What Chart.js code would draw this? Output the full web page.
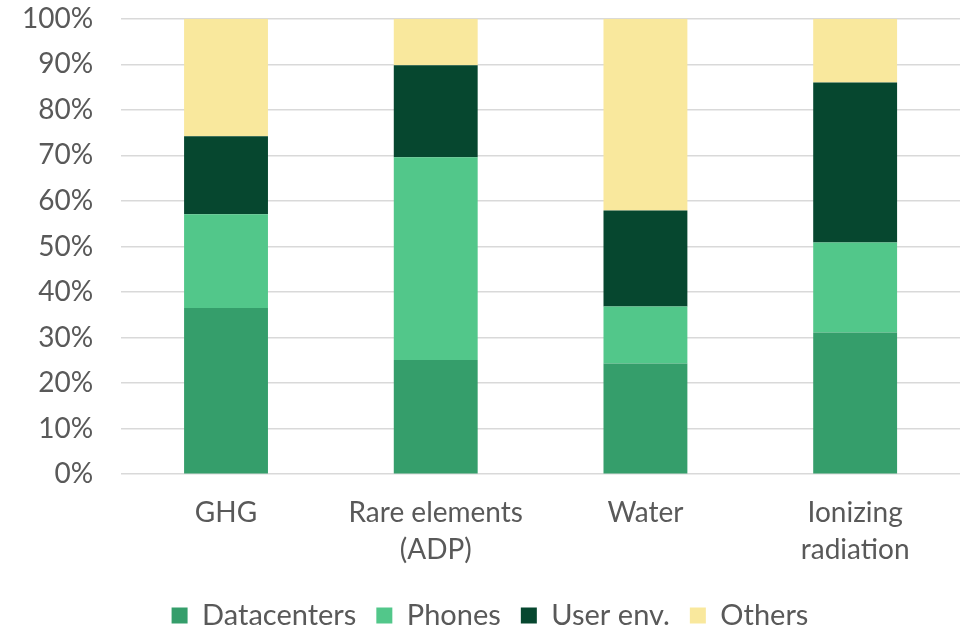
<!DOCTYPE html>
<html>
<head>
<meta charset="utf-8">
<script src="https://cdn.jsdelivr.net/npm/chart.js@4"></script>
<style>
  html, body { margin: 0; padding: 0; background: #fff; }
  #wrap { width: 960px; height: 628px; }
</style>
</head>
<body>
<div id="wrap"><canvas id="myChart" width="960" height="628"></canvas></div>
<script>
// categories and shares (%)
var categorias = [["GHG"], ["Rare elements", "(ADP)"], ["Water"], ["Ionizing", "radiation"]];
var datacenters = [36.5, 25.1, 24.3, 31.1];
var phones = [20.6, 44.5, 12.5, 19.8];
var userEnv = [17.1, 20.2, 21.1, 35.1];
var others = [25.8, 10.2, 42.1, 14.0];

var gris = "#595959";
var fuente = "Lato, 'Open Sans', sans-serif";

var ctx = document.getElementById("myChart").getContext("2d");
var myChart = new Chart(ctx, {
  type: "bar",
  data: {
    labels: categorias,
    datasets: [
      { label: "Datacenters", data: datacenters, backgroundColor: "#359e6b" },
      { label: "Phones", data: phones, backgroundColor: "#52c78a" },
      { label: "User env.", data: userEnv, backgroundColor: "#06472f" },
      { label: "Others", data: others, backgroundColor: "#f9e89d" }
    ]
  },
  options: {
    responsive: false,
    animation: false,
    layout: { padding: { top: 8, right: 0, left: 20, bottom: -12 } },
    datasets: { bar: { categoryPercentage: 0.8, barPercentage: 0.5 } },
    plugins: {
      tooltip: { enabled: false },
      legend: {
        position: "bottom",
        labels: {
          color: gris,
          font: { family: fuente, size: 29 },
          boxWidth: 16,
          boxHeight: 16,
          padding: 20
        }
      }
    },
    scales: {
      x: {
        stacked: true,
        grid: { display: false },
        border: { display: false },
        ticks: { color: gris, font: { family: fuente, size: 28, lineHeight: 1.3 }, padding: 13 }
      },
      y: {
        stacked: true,
        min: 0,
        max: 100,
        // la separacion va en tickLength (invisible) para no agrandar el margen de arriba
        grid: { color: "#d9d9d9", lineWidth: 1.5, drawTicks: true, tickLength: 26, tickColor: "rgba(0,0,0,0)" },
        border: { display: false },
        ticks: {
          stepSize: 10,
          color: gris,
          padding: 2,
          font: { family: fuente, size: 28 },
          callback: function (v) { return v + "%"; }
        }
      }
    }
  }
});
</script>
</body>
</html>
